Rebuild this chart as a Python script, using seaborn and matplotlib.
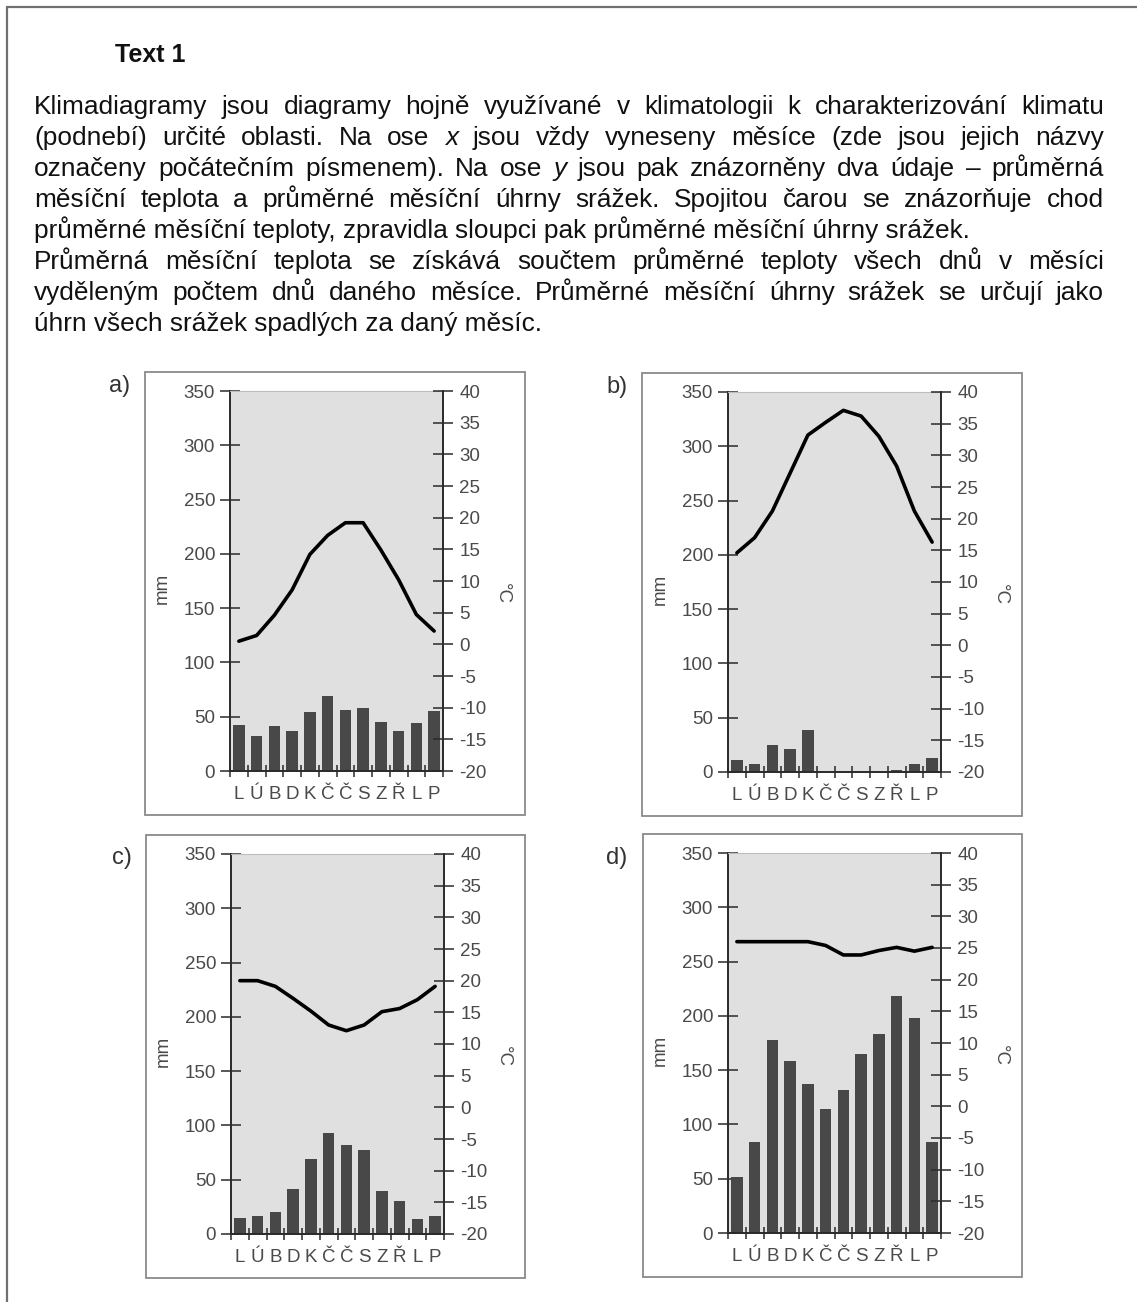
import matplotlib
matplotlib.use("Agg")
import matplotlib.pyplot as plt
import seaborn as sns
import numpy as np
import pandas as pd
from matplotlib.patches import Rectangle
from matplotlib.lines import Line2D

# ---------------- data ----------------
months = ['L', 'Ú', 'B', 'D', 'K', 'Č', 'Č', 'S', 'Z', 'Ř', 'L', 'P']

precip_a = [42, 32, 41, 37, 54, 69, 56, 58, 45, 37, 44, 55]
temp_a = [0.5, 1.4, 4.6, 8.6, 14.2, 17.2, 19.2, 19.2, 14.9, 10.2, 4.7, 2.1]

precip_b = [11, 7, 25, 21, 39, 0, 0, 0, 0, 1.5, 7, 13]
temp_b = [14.6, 17.0, 21.2, 27.2, 33.2, 35.2, 37.1, 36.2, 33.0, 28.3, 21.2, 16.3]

precip_c = [15, 17, 20, 41, 69, 93, 82, 77, 40, 30, 14, 17]
temp_c = [20.0, 20.0, 19.1, 17.2, 15.2, 13.0, 12.1, 13.0, 15.1, 15.6, 17.0, 19.1]

precip_d = [52, 84, 178, 158, 137, 114, 132, 165, 183, 218, 198, 84]
temp_d = [26.0, 26.0, 26.0, 26.0, 26.0, 25.4, 23.9, 23.9, 24.6, 25.1, 24.5, 25.1]

panel_labels = ['a)', 'b)', 'c)', 'd)']

title_text = "Text 1"
para_lines = [
    ("Klimadiagramy jsou diagramy hojně využívané v klimatologii k charakterizování klimatu", True),
    ("(podnebí) určité oblasti. Na ose *x jsou vždy vyneseny měsíce (zde jsou jejich názvy", True),
    ("označeny počátečním písmenem). Na ose *y jsou pak znázorněny dva údaje – průměrná", True),
    ("měsíční teplota a průměrné měsíční úhrny srážek. Spojitou čarou se znázorňuje chod", True),
    ("průměrné měsíční teploty, zpravidla sloupci pak průměrné měsíční úhrny srážek.", False),
    ("Průměrná měsíční teplota se získává součtem průměrné teploty všech dnů v měsíci", True),
    ("vyděleným počtem dnů daného měsíce. Průměrné měsíční úhrny srážek se určují jako", True),
    ("úhrn všech srážek spadlých za daný měsíc.", False),
]

# ---------------- style ----------------
sns.set_style("ticks")
plt.rcParams['font.family'] = ['Liberation Sans', 'DejaVu Sans']
plt.rcParams['axes.unicode_minus'] = False

W, H = 1137, 1302
fig = plt.figure(figsize=(W / 100, H / 100), dpi=100)
renderer = fig.canvas.get_renderer()


def fx(x):
    return x / W


def fy(y):
    return 1 - y / H


# page border (left and top)
fig.add_artist(Line2D([fx(7), fx(7)], [fy(7), 0], transform=fig.transFigure, color='#707070', lw=1.6))
fig.add_artist(Line2D([fx(7), 1], [fy(7), fy(7)], transform=fig.transFigure, color='#707070', lw=1.6))

# ---------------- text block ----------------
FS = 18.9
fig.text(fx(115), fy(62), title_text, fontsize=18, fontweight='bold', color='#111111',
         ha='left', va='baseline')

X0, X1 = 34, 1104
Y_FIRST, DY = 106, 31.0


def word_width(word, style):
    t = fig.text(0, 0, word, fontsize=FS, style=style)
    w = t.get_window_extent(renderer).width
    t.remove()
    return w


for i, (line, justify) in enumerate(para_lines):
    yb = fy(Y_FIRST + DY * i + 8)
    if not justify:
        fig.text(fx(X0), yb, line, fontsize=FS, color='#111111', ha='left', va='baseline')
        continue
    tokens = []
    for w in line.split(' '):
        if w.startswith('*'):
            tokens.append((w[1:], 'italic'))
        else:
            tokens.append((w, 'normal'))
    widths = [word_width(w, s) for w, s in tokens]
    gap = (X1 - X0 - sum(widths)) / (len(tokens) - 1)
    x = X0
    for (w, s), ww in zip(tokens, widths):
        fig.text(fx(x), yb, w, fontsize=FS, style=s, color='#111111', ha='left', va='baseline')
        x += ww + gap

# ---------------- climate diagrams ----------------
panels = [
    (precip_a, temp_a, (230, 391), (145, 372, 525, 815), (120, 386)),
    (precip_b, temp_b, (728, 392), (642, 373, 1022, 816), (617, 387)),
    (precip_c, temp_c, (231, 854), (146, 835, 525, 1278), (122, 858)),
    (precip_d, temp_d, (728, 853), (643, 834, 1022, 1277), (617, 858)),
]

AX_W, AX_H = 213, 380
SPINE = '#2a2a2a'
LABC = '#4a4a4a'
TS = 13.5

for (precip, temp, (ax_x, ax_y), (bx0, by0, bx1, by1), (lx, ly)), lab in zip(panels, panel_labels):
    # panel box
    fig.add_artist(Rectangle((fx(bx0), fy(by1)), (bx1 - bx0) / W, (by1 - by0) / H,
                             transform=fig.transFigure, fill=False, ec='#8a8a8a', lw=1.3))
    fig.text(fx(lx), fy(ly), lab, fontsize=17, color='#333333', ha='center', va='center')

    ax = fig.add_axes([fx(ax_x), fy(ax_y + AX_H), AX_W / W, AX_H / H])
    ax.set_facecolor('#e0e0e0')
    df = pd.DataFrame({'m': np.arange(12), 'p': precip})
    sns.barplot(data=df, x='m', y='p', ax=ax, color='#484848', saturation=1,
                width=0.65, errorbar=None, linewidth=0)
    ax.set_xlim(-0.5, 11.5)
    ax.set_ylim(0, 350)
    ax.set_yticks(np.arange(0, 351, 50))
    ax.set_xticks(np.arange(12))
    ax.set_xticklabels(months)
    ax.set_xticks(np.arange(-0.5, 12, 1), minor=True)
    ax.set_xlabel('')
    ax.set_ylabel('mm', fontsize=TS, color=LABC)
    ax.yaxis.set_label_coords(-0.28, 0.48)
    ax.tick_params(axis='y', direction='inout', length=14.4, width=1.1, color=SPINE,
                   labelsize=TS, labelcolor=LABC, pad=3.5)
    ax.tick_params(axis='x', which='major', length=0, labelsize=TS, labelcolor=LABC, pad=11)
    ax.tick_params(axis='x', which='minor', direction='inout', length=8.6, width=1.1, color=SPINE)
    for side in ['left', 'bottom']:
        ax.spines[side].set_color(SPINE)
        ax.spines[side].set_linewidth(1.4)
        ax.spines[side].set_visible(True)
    ax.spines['right'].set_visible(False)
    ax.spines['top'].set_visible(True)
    ax.spines['top'].set_color('#bdbdbd')
    ax.spines['top'].set_linewidth(0.8)

    ax2 = ax.twinx()
    sns.lineplot(x=np.arange(12), y=temp, ax=ax2, color='black', linewidth=2.6)
    ax2.set_xlim(-0.5, 11.5)
    ax2.set_ylim(-20, 40)
    ax2.set_yticks(np.arange(-20, 41, 5))
    ax2.tick_params(axis='y', direction='inout', length=14.4, width=1.1, color=SPINE,
                    labelsize=TS, labelcolor=LABC, pad=4.5)
    ax2.set_ylabel('°C', fontsize=TS, color=LABC, rotation=270)
    ax2.yaxis.set_label_coords(1.32, 0.467)
    for side in ['left', 'bottom', 'top']:
        ax2.spines[side].set_visible(False)
    ax2.spines['right'].set_visible(True)
    ax2.spines['right'].set_color(SPINE)
    ax2.spines['right'].set_linewidth(1.4)

fig.savefig('out.png', dpi=100)
